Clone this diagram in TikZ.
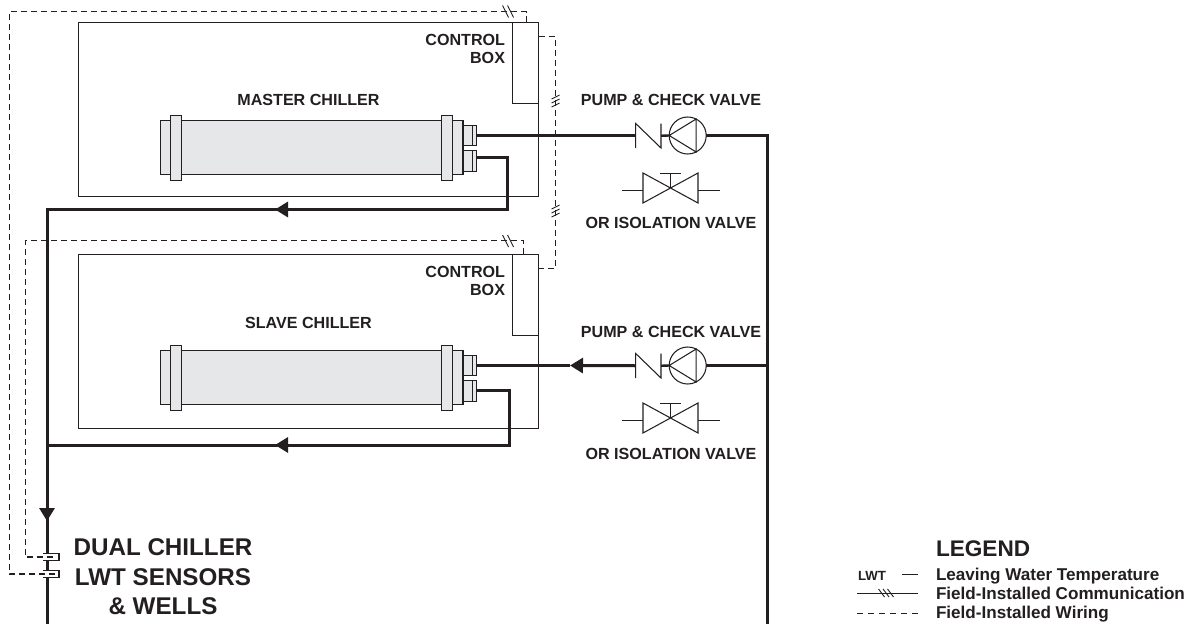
\documentclass[tikz,border=0pt]{standalone}
\usepackage{fontspec}
\setmainfont{Liberation Sans}
\usetikzlibrary{arrows.meta,calc}
\definecolor{ink}{HTML}{231F20}
\definecolor{shell}{HTML}{E6E7E8}
\tikzset{
  x=1pt,y=-1pt,
  every node/.style={inner sep=0pt,outer sep=0pt,text=ink},
  box/.style={draw=ink,line width=1.05pt,anchor=north west},
  part/.style={draw=ink,fill=shell,line width=1.05pt,anchor=north west},
  phantombox/.style={anchor=north west},
  wellbox/.style={fill=white,anchor=north west},
  pipe/.style={draw=ink,line width=3pt},
  fine/.style={draw=ink,line width=1.05pt},
  wire/.style={draw=ink,line width=1.05pt,dash pattern=on 6pt off 4pt},
  tick/.style={draw=ink,line width=0.9pt},
  flow/.style={pipe,-{Triangle[length=13pt,width=15pt]}},
  lab/.style={font=\bfseries\fontsize{16.1}{18}\selectfont},
  big/.style={font=\bfseries\fontsize{24.2}{29.5}\selectfont,align=center},
  leg/.style={font=\bfseries\fontsize{17.1}{19}\selectfont,anchor=base west},
}
\newcommand{\rect}[6]{\node[#1,minimum width=#5pt,minimum height=#6pt] (#2) at (#3,#4) {};}
% one chiller vessel: prefix, vertical offset
\newcommand{\vessel}[2]{%
  \rect{part}{#1-body}{170.5}{120.5+#2}{272}{54}
  \rect{part}{#1-lcap}{160.5}{120.5+#2}{10}{54}
  \rect{part}{#1-lfl}{170.5}{115.5+#2}{11}{65}
  \rect{part}{#1-rcap}{452.5}{120.5+#2}{10.5}{54}
  \rect{part}{#1-rfl}{441.8}{115.5+#2}{10.8}{65}
  \rect{part}{#1-nza}{463}{125.5+#2}{13.5}{20}
  \rect{part}{#1-nzb}{463}{150.5+#2}{13.5}{21}
  \draw[fine] (472.5,125.5+#2) -- (472.5,145.5+#2) (472.5,150.5+#2) -- (472.5,171.5+#2);
}
% pump, check valve and isolation valve: prefix, vertical offset
\newcommand{\valves}[2]{%
  \rect{phantombox}{#1-check}{635.7}{123.5+#2}{25.3}{24.5}
  \draw[fine] (#1-check.south west) -- (#1-check.north west) -- (#1-check.south east) -- (#1-check.north east);
  \node[draw=ink,line width=1.05pt,circle,minimum size=37pt] (#1-pump) at (687.7,135.5+#2) {};
  \draw[fine] (#1-pump.63) -- (#1-pump.-63) -- (#1-pump.west) -- cycle;
  \draw[draw=ink,line width=2.4pt] (#1-check.east) -- (#1-pump.west);
  \rect{phantombox}{#1-iso}{643}{173+#2}{55}{30}
  \draw[fine] (#1-iso.north west) -- (#1-iso.south east) -- (#1-iso.north east) -- (#1-iso.south west) -- cycle;
  \coordinate (#1-stem) at (670.5,173.5+#2);
  \draw[fine] (#1-iso.center) -- (#1-stem) (660,173.5+#2) -- (681,173.5+#2);
  \draw[fine] (622,190.5+#2) -- (643,190.5+#2) (698,190.5+#2) -- (720,190.5+#2);
}
% slanted tick group at a point on a wire
\newcommand{\vticks}[2]{%
  \foreach \d in {-4,0,4}{\draw[tick] (#1-4,#2+\d+2) -- (#1+4,#2+\d-2);}}
\newcommand{\hticks}[2]{%
  \foreach \d in {-2.5,2.5}{\draw[tick] (#1+\d-3,#2-6) -- (#1+\d+3,#2+6);}}
\begin{document}
\begin{tikzpicture}
\useasboundingbox (0,0) rectangle (1194,624);
\fill[white] (0,0) rectangle (1194,624);
% cabinets
\rect{box}{mbox}{78.5}{22.5}{460}{174}
\rect{box}{sbox}{78.5}{254.5}{460}{174}
\rect{box}{mctl}{512.5}{22.5}{26}{81}
\rect{box}{sctl}{512.5}{254.5}{26}{81}
\vessel{m}{0}
\vessel{s}{230}
\valves{m}{0}
\valves{s}{230}
% named route points
\coordinate (mbend1) at (507.5,157.5);
\coordinate (mbend2) at (507.5,209.5);
\coordinate (marrow) at (275,209.5);
\coordinate (tee1) at (47,209.5);
\coordinate (sbend1) at (509.5,390);
\coordinate (sbend2) at (509.5,445);
\coordinate (sarrow) at (275,445);
\coordinate (tee2) at (47,445);
\coordinate (darrow) at (47,521);
\coordinate (lwtend) at (47,624);
\coordinate (rtop) at (767,135.5);
\coordinate (rtee) at (767,365.5);
\coordinate (rend) at (767,624);
\coordinate (sflow) at (570,365.5);
% water pipes
\draw[pipe] (m-check.west -| m-nza.east) -- (m-check.west);
\draw[pipe,line join=miter] (m-pump.east) -- (rtop) -- (rend);
\draw[pipe,line join=miter] (mbend1 -| m-nzb.east) -- (mbend1) -- (mbend2) -- (marrow);
\draw[flow] (mbend2) -- (marrow);
\draw[pipe,line join=miter] (marrow) -- (tee1) -- (lwtend);
\draw[flow] (tee1) -- (darrow);
\draw[pipe] (s-pump.east) -- (rtee);
\draw[flow] (s-check.west) -- (sflow);
\draw[pipe] (sflow) -- (sflow -| s-nza.east);
\draw[pipe,line join=miter] (sbend1 -| s-nzb.east) -- (sbend1) -- (sbend2) -- (sarrow);
\draw[flow] (sbend2) -- (sarrow);
\draw[pipe] (sarrow) -- (tee2);
% wells: open to the left, breaking the pipe
\rect{wellbox}{wella}{43}{553.5}{16}{7}
\rect{wellbox}{wellb}{43}{570.5}{16}{7}
\draw[fine] (wella.north west) -- (wella.north east) -- (wella.south east) -- (wella.south west);
\draw[fine] (wellb.north west) -- (wellb.north east) -- (wellb.south east) -- (wellb.south west);
% field wiring
\coordinate (wa1) at (526.5,22);
\coordinate (wa2) at (526.5,11.5);
\coordinate (wa3) at (9.5,11.5);
\coordinate (wa4) at (9.5,574);
\coordinate (wb1) at (523.5,254);
\coordinate (wb2) at (523.5,240.5);
\coordinate (wb3) at (25.5,240.5);
\coordinate (wb4) at (25.5,557);
\coordinate (wc1) at (539,36.5);
\coordinate (wc2) at (555.5,36.5);
\coordinate (wc3) at (555.5,268.5);
\coordinate (wc4) at (539,268.5);
\draw[wire] (wa1) -- (wa2) -- (wa3) -- (wa4) -- ($(wellb.east)+(-3,0)$);
\draw[wire] (wb1) -- (wb2) -- (wb3) -- (wb4) -- ($(wella.east)+(-3,0)$);
\draw[wire] (wc1) -- (wc2) -- (wc3) -- (wc4);
\hticks{508}{11.5}
\hticks{508}{241}
\vticks{555.5}{101}
\vticks{555.5}{211}
% labels
\node[lab,align=right,anchor=north east] (lctlm) at (505,34) {CONTROL\\BOX};
\node[lab,align=right,anchor=north east] (lctls) at (505,266) {CONTROL\\BOX};
\node[lab] (lm) at (308.5,99.7) {MASTER CHILLER};
\node[lab] (ls) at (308.5,322.7) {SLAVE CHILLER};
\node[lab] (lpm) at (671,99.7) {PUMP \& CHECK VALVE};
\node[lab] (lps) at (671,331.7) {PUMP \& CHECK VALVE};
\node[lab] (lim) at (671,222.7) {OR ISOLATION VALVE};
\node[lab] (lis) at (671,453.7) {OR ISOLATION VALVE};
\node[big,anchor=north] (ldual) at (163,539) {DUAL CHILLER\\LWT SENSORS\\\& WELLS};
% legend
\node[font=\bfseries\fontsize{22.6}{24}\selectfont,anchor=west] (lg) at (936,549) {LEGEND};
\node[font=\fontsize{13.3}{14}\selectfont\bfseries,anchor=base west] (llwt) at (858,580.5) {LWT};
\coordinate (la1) at (902,574.5); \coordinate (la2) at (918,574.5);
\coordinate (lb1) at (857,593.5); \coordinate (lb2) at (918,593.5);
\coordinate (lc1) at (857,613.5); \coordinate (lc2) at (918,613.5);
\draw[fine] (la1) -- (la2);
\draw[fine] (lb1) -- (lb2);
\foreach \d in {-4.5,0,4.5}{\draw[tick] (883+\d,589) -- (889+\d,597);}
\draw[wire,dash pattern=on 6pt off 5pt] (lc1) -- (lc2);
\node[leg] (l1) at (936,580) {Leaving Water Temperature};
\node[leg] (l2) at (936,599) {Field-Installed Communication};
\node[leg] (l3) at (936,618) {Field-Installed Wiring};
\end{tikzpicture}
\end{document}
